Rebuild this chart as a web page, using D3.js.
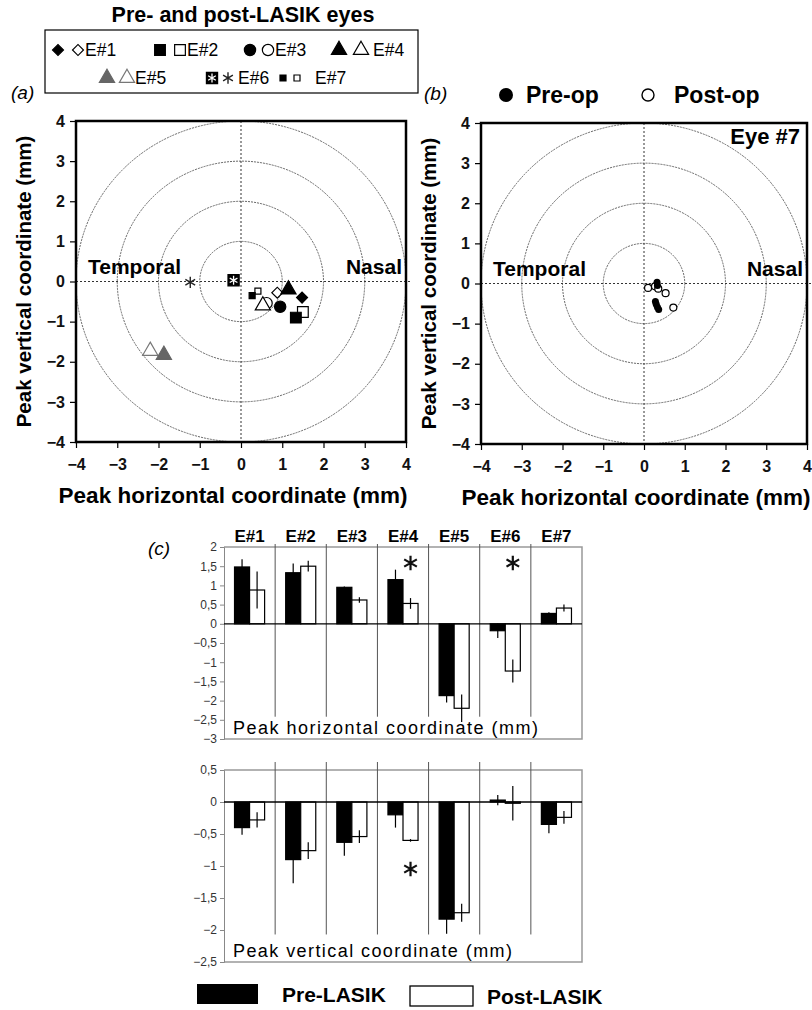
<!DOCTYPE html>
<html>
<head>
<meta charset="utf-8">
<style>
  body { margin: 0; background: #fff; }
  svg { display: block; font-family: "Liberation Sans", Arial, sans-serif; }
  .ring { fill: none; stroke: #666; stroke-width: 1; stroke-dasharray: 2,1; }
  .cross { stroke: #333; stroke-width: 1; stroke-dasharray: 2,2; }
  .box { fill: none; stroke: #000; stroke-width: 2.5; }
  .ax text { font-size: 16px; font-weight: bold; fill: #111; }
  .ax line { stroke: #000; stroke-width: 1.2; }
  .bax text { font-size: 12px; fill: #333; }
  .bax line { stroke: #888; }
  .bax path { stroke: #888; }
</style>
</head>
<body>
<svg width="812" height="1010"></svg>
<script src="https://d3js.org/d3.v7.min.js"></script>
<script>

// eyes and mean peak positions (mm)
var eyes = ["E#1", "E#2", "E#3", "E#4", "E#5", "E#6", "E#7"];
var horizPre   = [1.48, 1.33, 0.95, 1.15, -1.87, -0.18, 0.27];
var horizPost  = [0.88, 1.50, 0.62, 0.53, -2.20, -1.23, 0.41];
var horizPreSd = [0.20, 0.24, 0.02, 0.26, 0.18, 0.19, 0.03];
var horizPostSd= [0.48, 0.14, 0.07, 0.14, 0.36, 0.30, 0.09];
var vertPre    = [-0.40, -0.90, -0.63, -0.20, -1.83, 0.03, -0.35];
var vertPost   = [-0.28, -0.76, -0.54, -0.60, -1.73, -0.02, -0.24];
var vertPreSd  = [0.11, 0.37, 0.21, 0.20, 0.23, 0.08, 0.14];
var vertPostSd = [0.12, 0.13, 0.10, 0.02, 0.14, 0.27, 0.10];
var horizSig = ["E#4", "E#6"];
var vertSig = ["E#4"];

// marker kinds for pre / post in panel (a)
var preKind  = ["diamond", "square", "circle", "triangle", "triangleGray", "squareStar", "smallSquare"];
var postKind = ["diamond", "square", "circle", "triangle", "triangleGray", "star", "smallSquare"];

// eye #7 individual measurements (mm)
var eye7PreX  = [0.32, 0.33, 0.28, 0.30, 0.33, 0.36];
var eye7PreY  = [0.03, -0.05, -0.45, -0.52, -0.59, -0.65];
var eye7PostX = [0.10, 0.27, 0.35, 0.53, 0.72];
var eye7PostY = [-0.11, -0.07, -0.13, -0.24, -0.60];

var ringRadii = [1, 2, 3, 4];
var axisTicks = [-4, -3, -2, -1, 0, 1, 2, 3, 4];
var horizTicks = [2, 1.5, 1, 0.5, 0, -0.5, -1, -1.5, -2, -2.5, -3];
var vertTicks = [0.5, 0, -0.5, -1, -1.5, -2, -2.5];

var svg = d3.select("svg");
var fmt = function(d) { return String(d).replace(".", ",").replace("-", "\u2212"); };
var fmtInt = function(d) { return String(d).replace("-", "\u2212"); };

// draw one marker of a given kind
function marker(g, kind, pre, cx, cy) {
  var m = g.append("g").attr("transform", "translate(" + cx + "," + cy + ")");
  var fill = pre ? "#000" : "#fff";
  var stroke = "#000";
  var type, size, rot = 0;
  if (kind == "diamond") { type = d3.symbolSquare; size = 60; rot = 45; }
  else if (kind == "square") { type = d3.symbolSquare; size = 115; }
  else if (kind == "circle") { type = d3.symbolCircle; size = 100; }
  else if (kind == "triangle") { type = d3.symbolTriangle; size = 100; }
  else if (kind == "triangleGray") { type = d3.symbolTriangle; size = 100;
    fill = pre ? "#666" : "#fff"; stroke = pre ? "#666" : "#777"; }
  else if (kind == "smallSquare") { type = d3.symbolSquare; size = 36; }
  else if (kind == "squareStar") { type = d3.symbolSquare; size = 125; }
  if (kind == "star") {
    m.append("path").attr("d", d3.symbol().type(d3.symbolAsterisk).size(90)())
      .attr("fill", "none").attr("stroke", "#222").attr("stroke-width", 1.4);
    return;
  }
  m.append("path").attr("d", d3.symbol().type(type).size(size)())
    .attr("transform", "rotate(" + rot + ")")
    .attr("fill", fill).attr("stroke", stroke).attr("stroke-width", 1.2);
  if (kind == "squareStar") {
    m.append("path").attr("d", d3.symbol().type(d3.symbolAsterisk).size(55)())
      .attr("fill", "none").attr("stroke", "#fff").attr("stroke-width", 1.3);
  }
}

// ---------- legend at top ----------
svg.append("text").attr("x", 243).attr("y", 22).attr("text-anchor", "middle")
  .style("font-size", "21.5px").style("font-weight", "bold").text("Pre- and post-LASIK eyes");
svg.append("rect").attr("x", 45).attr("y", 30).attr("width", 373).attr("height", 63)
  .attr("fill", "none").attr("stroke", "#000").attr("stroke-width", 1.2);

var legendPos = [[58, 50], [160, 50], [250, 50], [339, 50], [107, 78], [212, 78], [283, 78]];
var legendGap = [20, 20, 18, 22, 20, 16, 14];
var legendTextX = [85, 187, 275, 373, 135, 238, 315];
eyes.forEach(function(e, i) {
  var p = legendPos[i];
  marker(svg, preKind[i], true, p[0], p[1]);
  marker(svg, postKind[i], false, p[0] + legendGap[i], p[1]);
  svg.append("text").attr("x", legendTextX[i]).attr("y", p[1] + 6)
    .style("font-size", "17.5px").text(e);
});

// ---------- scatter panels ----------
function targetPanel(left, top, right, bottom) {
  var x = d3.scaleLinear().domain([-4, 4]).range([left, right]);
  var y = d3.scaleLinear().domain([-4, 4]).range([bottom, top]);
  var g = svg.append("g");

  g.selectAll(".ring").data(ringRadii).enter().append("ellipse")
    .attr("class", "ring")
    .attr("cx", x(0)).attr("cy", y(0))
    .attr("rx", function(d) { return x(d) - x(0); })
    .attr("ry", function(d) { return y(0) - y(d); });

  g.append("line").attr("class", "cross").attr("x1", x(-4)).attr("x2", x(4) + 6)
    .attr("y1", y(0)).attr("y2", y(0));
  g.append("line").attr("class", "cross").attr("x1", x(0)).attr("x2", x(0))
    .attr("y1", y(4)).attr("y2", y(-4));

  g.append("g").attr("class", "ax").attr("transform", "translate(0," + bottom + ")")
    .call(d3.axisBottom(x).tickValues(axisTicks).tickSize(6).tickPadding(11).tickFormat(fmtInt))
    .select(".domain").remove();
  g.append("g").attr("class", "ax").attr("transform", "translate(" + left + ",0)")
    .call(d3.axisLeft(y).tickValues(axisTicks).tickSize(6).tickPadding(5).tickFormat(fmtInt))
    .select(".domain").remove();

  g.append("rect").attr("class", "box").attr("x", left).attr("y", top)
    .attr("width", right - left).attr("height", bottom - top);

  g.append("text").attr("x", left + 12).attr("y", y(0) - 8)
    .style("font-size", "21px").style("font-weight", "bold").text("Temporal");
  g.append("text").attr("x", right - 4).attr("y", y(0) - 8).attr("text-anchor", "end")
    .style("font-size", "21px").style("font-weight", "bold").text("Nasal");

  g.append("text").attr("x", (left + right) / 2 - 8).attr("y", bottom + 61).attr("text-anchor", "middle")
    .style("font-size", "22.5px").style("font-weight", "bold").text("Peak horizontal coordinate (mm)");
  g.append("text").attr("transform", "translate(" + (left - 45) + "," + ((top + bottom) / 2) + ") rotate(-90)")
    .attr("text-anchor", "middle")
    .style("font-size", "20.5px").style("font-weight", "bold").text("Peak vertical coordinate (mm)");
  return { g: g, x: x, y: y };
}

// (a)
var pa = targetPanel(76, 121, 406, 442);
svg.append("text").attr("x", 11).attr("y", 99).style("font-size", "19px")
  .style("font-style", "italic").text("(a)");
eyes.forEach(function(e, i) {
  marker(pa.g, postKind[i], false, pa.x(horizPost[i]), pa.y(vertPost[i]));
});
eyes.forEach(function(e, i) {
  marker(pa.g, preKind[i], true, pa.x(horizPre[i]), pa.y(vertPre[i]));
});

// (b)
var pb = targetPanel(481, 123, 807, 444);
svg.append("text").attr("x", 424).attr("y", 100).style("font-size", "19px")
  .style("font-style", "italic").text("(b)");
pb.g.append("text").attr("x", 800).attr("y", 144).attr("text-anchor", "end")
  .style("font-size", "22px").style("font-weight", "bold").text("Eye #7");
pb.g.selectAll(".post").data(eye7PostX).enter().append("circle")
  .attr("cx", function(d) { return pb.x(d); })
  .attr("cy", function(d, i) { return pb.y(eye7PostY[i]); })
  .attr("r", 3.5).attr("fill", "#fff").attr("stroke", "#000").attr("stroke-width", 1.2);
pb.g.selectAll(".pre").data(eye7PreX).enter().append("circle")
  .attr("cx", function(d) { return pb.x(d); })
  .attr("cy", function(d, i) { return pb.y(eye7PreY[i]); })
  .attr("r", 3.5).attr("fill", "#000");

svg.append("circle").attr("cx", 506).attr("cy", 95).attr("r", 7).attr("fill", "#000");
svg.append("text").attr("x", 526).attr("y", 103).style("font-size", "23px")
  .style("font-weight", "bold").text("Pre-op");
svg.append("circle").attr("cx", 648).attr("cy", 95).attr("r", 6).attr("fill", "#fff")
  .attr("stroke", "#000").attr("stroke-width", 1.4);
svg.append("text").attr("x", 674).attr("y", 103).style("font-size", "23px")
  .style("font-weight", "bold").text("Post-op");

// ---------- bar charts (c) ----------
svg.append("text").attr("x", 148).attr("y", 555).style("font-size", "19px")
  .style("font-style", "italic").text("(c)");

var xb = d3.scaleBand().domain(eyes).range([224, 582]);
var xs = d3.scaleBand().domain(["pre", "post"]).range([0, xb.bandwidth()]).paddingOuter(0.7);

function barChart(top, bottom, domain, ticks, pre, post, preSd, postSd, sig, sepTop, sepEnd, label, labelLen, sigY, showNames) {
  var y = d3.scaleLinear().domain(domain).range([bottom, top]);
  var g = svg.append("g");

  // frame
  g.append("path").attr("d", "M224," + top + "H582V" + bottom + "H224")
    .attr("fill", "none").attr("stroke", "#999").attr("stroke-width", 1.5);
  g.append("g").attr("class", "bax").attr("transform", "translate(224,0)")
    .call(d3.axisLeft(y).tickValues(ticks).tickSize(4).tickPadding(3).tickFormat(fmt));

  // group separators
  g.selectAll(".sep").data(eyes.slice(1)).enter().append("line")
    .attr("x1", function(d) { return xb(d); }).attr("x2", function(d) { return xb(d); })
    .attr("y1", sepTop).attr("y2", y(sepEnd))
    .attr("stroke", "#555").attr("stroke-width", 1);

  if (showNames) {
    g.selectAll(".name").data(eyes).enter().append("text")
      .attr("x", function(d) { return xb(d) + xb.bandwidth() / 2; })
      .attr("y", top - 5).attr("text-anchor", "middle")
      .style("font-size", "17px").style("font-weight", "bold").text(function(d) { return d; });
  }

  var series = [["pre", pre, preSd, "#000"], ["post", post, postSd, "#fff"]];
  series.forEach(function(s) {
    g.selectAll(".bar-" + s[0]).data(eyes).enter().append("rect")
      .attr("x", function(d) { return xb(d) + xs(s[0]); })
      .attr("width", xs.bandwidth())
      .attr("y", function(d, i) { return y(Math.max(0, s[1][i])); })
      .attr("height", function(d, i) { return Math.abs(y(s[1][i]) - y(0)); })
      .attr("fill", s[3]).attr("stroke", "#000").attr("stroke-width", 1.2);
    g.selectAll(".err-" + s[0]).data(eyes).enter().append("line")
      .attr("x1", function(d) { return xb(d) + xs(s[0]) + xs.bandwidth() / 2; })
      .attr("x2", function(d) { return xb(d) + xs(s[0]) + xs.bandwidth() / 2; })
      .attr("y1", function(d, i) { return y(s[1][i] + s[2][i]); })
      .attr("y2", function(d, i) { return y(s[1][i] - s[2][i]); })
      .attr("stroke", "#000").attr("stroke-width", 1.2);
  });

  g.append("line").attr("x1", 224).attr("x2", 582).attr("y1", y(0)).attr("y2", y(0))
    .attr("stroke", "#000").attr("stroke-width", 1.3);

  g.selectAll(".sig").data(sig).enter().append("path")
    .attr("transform", function(d) {
      return "translate(" + (xb(d) + xs("post") + xs.bandwidth() / 2) + "," + sigY + ")";
    })
    .attr("d", d3.symbol().type(d3.symbolAsterisk).size(150)())
    .attr("fill", "none").attr("stroke", "#111").attr("stroke-width", 2.2);

  g.append("text").attr("x", 233).attr("y", bottom - 5)
    .attr("textLength", labelLen).attr("lengthAdjust", "spacing")
    .style("font-size", "18px").text(label);
}

barChart(547, 739, [-3, 2], horizTicks, horizPre, horizPost, horizPreSd, horizPostSd,
  horizSig, 544, -2.42, "Peak horizontal coordinate (mm)", 305, 563, true);
barChart(770, 962, [-2.5, 0.5], vertTicks, vertPre, vertPost, vertPreSd, vertPostSd,
  vertSig, 762, -2.07, "Peak vertical coordinate (mm)", 279, 869, false);

// bottom legend
svg.append("rect").attr("x", 197).attr("y", 984).attr("width", 61).attr("height", 20).attr("fill", "#000");
svg.append("text").attr("x", 282).attr("y", 1002).style("font-size", "21px")
  .style("font-weight", "bold").text("Pre-LASIK");
svg.append("rect").attr("x", 410).attr("y", 986).attr("width", 63).attr("height", 20)
  .attr("fill", "#fff").attr("stroke", "#000").attr("stroke-width", 1.3);
svg.append("text").attr("x", 487).attr("y", 1004).style("font-size", "21px")
  .style("font-weight", "bold").text("Post-LASIK");

</script>
</body>
</html>
